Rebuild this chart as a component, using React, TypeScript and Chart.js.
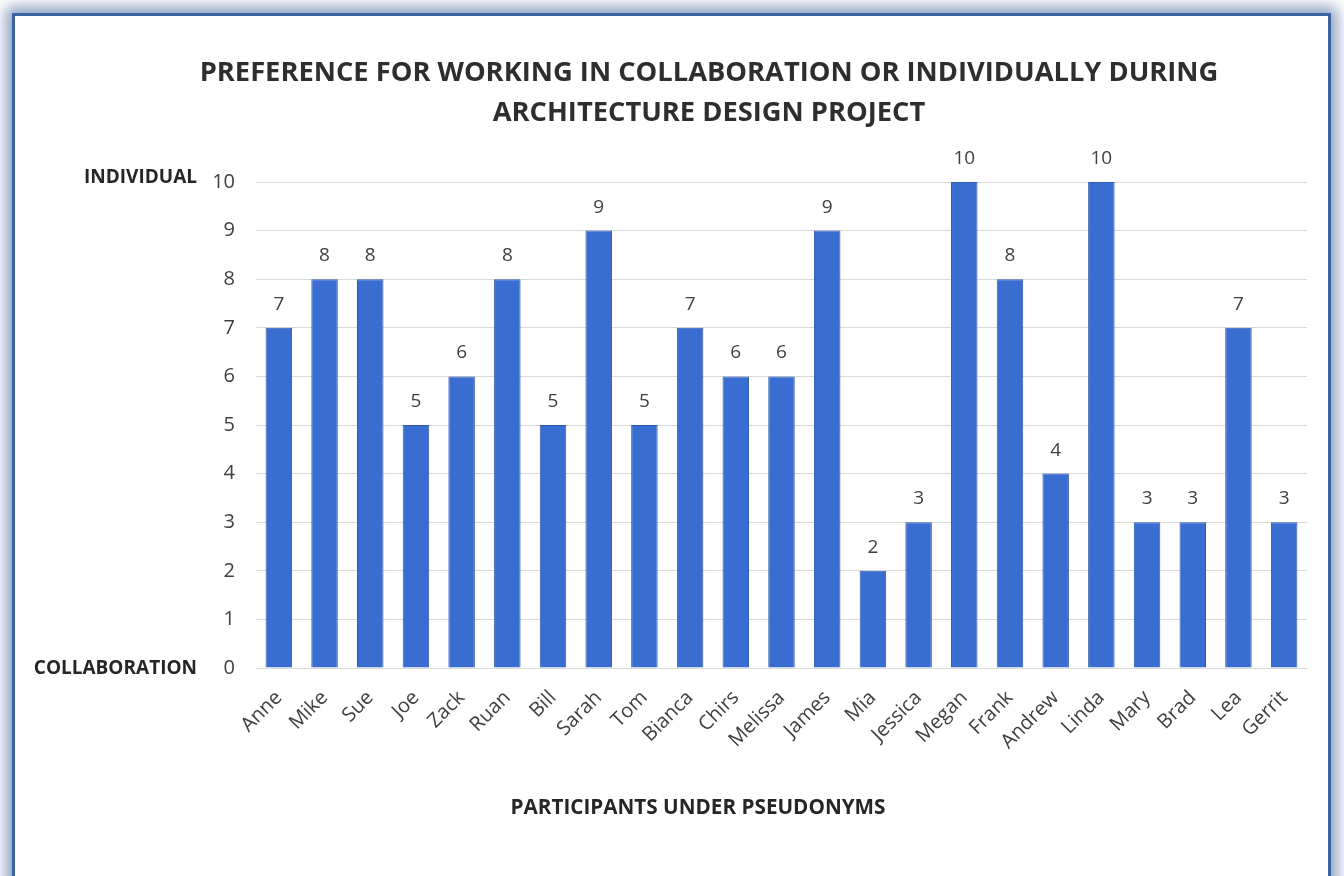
import React, { useEffect, useRef } from "react";
import { Chart, registerables } from "chart.js";

Chart.register(...registerables);

const participants = [
  "Anne", "Mike", "Sue", "Joe", "Zack", "Ruan", "Bill", "Sarah", "Tom", "Bianca",
  "Chirs", "Melissa", "James", "Mia", "Jessica", "Megan", "Frank", "Andrew", "Linda",
  "Mary", "Brad", "Lea", "Gerrit",
];
const preference = [7, 8, 8, 5, 6, 8, 5, 9, 5, 7, 6, 6, 9, 2, 3, 10, 8, 4, 10, 3, 3, 7, 3];
const titleLines = [
  "PREFERENCE FOR WORKING IN COLLABORATION OR INDIVIDUALLY DURING",
  "ARCHITECTURE DESIGN PROJECT",
];
const yTopLabel = "INDIVIDUAL";
const yBottomLabel = "COLLABORATION";
const xTitle = "PARTICIPANTS UNDER PSEUDONYMS";
const yMin = 0;
const yMax = 10;

const FONT = "'Open Sans', 'Liberation Sans', sans-serif";

const textPlugin = {
  id: "extraText",
  afterDraw(chart: any) {
    const ctx = chart.ctx;
    const yScale = chart.scales.y;
    ctx.save();
    // title
    ctx.fillStyle = "#2e2e2e";
    ctx.font = `bold 27.3px ${FONT}`;
    ctx.textAlign = "center";
    ctx.textBaseline = "middle";
    ctx.fillText(titleLines[0], 709, 73);
    ctx.fillText(titleLines[1], 709, 113);
    // y end labels
    ctx.fillStyle = "#262626";
    ctx.font = `bold 19px ${FONT}`;
    ctx.textAlign = "right";
    ctx.fillText(yTopLabel, 197, yScale.getPixelForValue(yMax) - 4);
    ctx.fillText(yBottomLabel, 197, yScale.getPixelForValue(yMin) + 1);
    // x title
    ctx.textAlign = "center";
    ctx.font = `bold 20.7px ${FONT}`;
    ctx.fillText(xTitle, 698, 808);
    // data labels
    ctx.fillStyle = "#404040";
    ctx.font = `19px ${FONT}`;
    ctx.textBaseline = "bottom";
    const meta = chart.getDatasetMeta(0);
    meta.data.forEach((el: any, i: number) => {
      ctx.fillText(String(preference[i]), el.x, el.y - 14);
    });
    ctx.restore();
  },
};

export default function App() {
  const ref = useRef<HTMLCanvasElement | null>(null);
  useEffect(() => {
    if (!ref.current) return;
    const chart = new Chart(ref.current, {
      type: "bar",
      data: {
        labels: participants,
        datasets: [
          {
            data: preference,
            backgroundColor: "#3a6dd2",
            borderColor: "#2d5aae",
            borderWidth: 1,
            barPercentage: 0.58,
            categoryPercentage: 1,
          },
        ],
      },
      options: {
        animation: false,
        responsive: false,
        maintainAspectRatio: false,
        layout: { padding: { left: 0, right: 37, top: 182, bottom: 0 } },
        plugins: {
          legend: { display: false },
          title: { display: false },
          tooltip: { enabled: false },
        },
        scales: {
          x: {
            grid: { display: false },
            border: { display: true, color: "#d9d9d9" },
            ticks: {
              autoSkip: false,
              minRotation: 45,
              maxRotation: 45,
              padding: 10,
              color: "#404040",
              font: { family: FONT, size: 20 },
            },
            afterFit(scale: any) {
              scale.height = 208;
            },
          },
          y: {
            min: yMin,
            max: yMax,
            grid: { color: "#d9d9d9", drawTicks: false },
            border: { display: false },
            ticks: {
              stepSize: 1,
              padding: 21,
              color: "#404040",
              font: { family: FONT, size: 20 },
            },
            afterFit(scale: any) {
              scale.width = 256;
            },
          },
        },
      },
      plugins: [textPlugin],
    });
    return () => chart.destroy();
  }, []);

  return (
    <div
      style={{
        position: "absolute",
        left: 0,
        top: 0,
        width: 1344,
        height: 876,
        overflow: "hidden",
        background: "#ffffff",
      }}
    >
      <div
        style={{
          position: "absolute",
          left: 12,
          top: 13,
          width: 1319,
          height: 1000,
          boxSizing: "border-box",
          border: "3px solid #3e64a0",
          boxShadow: "0 0 14px 6px rgba(60,92,145,0.6)",
          background: "#ffffff",
        }}
      />
      <canvas
        ref={ref}
        width={1344}
        height={876}
        style={{ position: "absolute", left: 0, top: 0, width: 1344, height: 876 }}
      />
    </div>
  );
}
